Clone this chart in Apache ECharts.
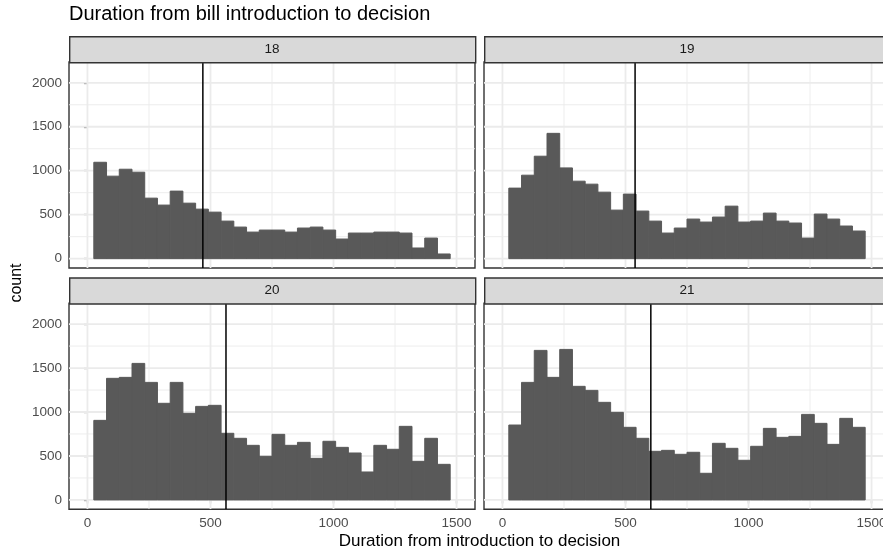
<!DOCTYPE html>
<html>
<head>
<meta charset="utf-8">
<script src="https://cdn.jsdelivr.net/npm/echarts@6/dist/echarts.min.js"></script>
<style>
html,body{margin:0;padding:0;background:#fff;}
#chart{width:883px;height:553px;}
</style>
</head>
<body>
<div id="chart"></div>
<script>
// ---- data ----
const panelNames = ['18', '19', '20', '21'];
const binCenters = [51.7, 103.4, 155.2, 206.9, 258.6, 310.3, 362.1, 413.8, 465.5, 517.2,
  569.0, 620.7, 672.4, 724.1, 775.9, 827.6, 879.3, 931.0, 982.8, 1034.5,
  1086.2, 1137.9, 1189.7, 1241.4, 1293.1, 1344.8, 1396.6, 1448.3];
const binWidth = 51.72;
const counts18 = [1096, 938, 1017, 983, 688, 609, 768, 631, 563, 529, 427, 359, 302, 325, 325, 302, 348, 359, 325, 223, 291, 291, 302, 302, 291, 121, 234, 53];
const counts19 = [802, 949, 1165, 1425, 1032, 881, 847, 756, 552, 734, 541, 427, 291, 348, 450, 416, 473, 597, 416, 427, 518, 427, 405, 234, 507, 450, 371, 314];
const counts20 = [905, 1383, 1394, 1553, 1337, 1099, 1337, 985, 1064, 1076, 758, 701, 621, 496, 746, 621, 655, 473, 667, 598, 534, 318, 621, 576, 837, 439, 701, 405];
const counts21 = [852, 1337, 1701, 1394, 1712, 1292, 1246, 1110, 996, 826, 701, 553, 564, 519, 542, 303, 644, 587, 451, 610, 814, 712, 723, 973, 871, 632, 928, 826];
const medians = [469, 539, 563, 603];
const xMajorTicks = [0, 500, 1000, 1500];
const xMinorTicks = [250, 750, 1250];
const yMajorTicks = [0, 500, 1000, 1500, 2000];
const yMinorTicks = [250, 750, 1250, 1750];

// ---- layout ----
const FONT = "'Liberation Sans', Arial, Helvetica, sans-serif";
const X_MIN = -75, X_MAX = 1575, Y_MIN = -106.5, Y_MAX = 2236.5;
const PW = 406, PH = 206, STRIP_H = 26;
const lefts = [69, 484, 69, 484];
const tops = [62, 62, 303.3, 303.3];
const allCounts = [counts18, counts19, counts20, counts21];

const chart = echarts.init(document.getElementById('chart'), null, {renderer: 'canvas'});

const grids = [], xAxes = [], yAxes = [], series = [], graphics = [];
const plain = v => String(v);

for (let i = 0; i < 4; i++) {
  grids.push({left: lefts[i], top: tops[i], width: PW, height: PH, show: true,
    outerBoundsMode: 'none', containLabel: false,
    backgroundColor: '#ffffff', borderColor: '#333333', borderWidth: 1.4, z: 0});
  const showX = i >= 2, showY = (i % 2 === 0);
  xAxes.push({type: 'value', gridIndex: i, min: X_MIN, max: X_MAX,
    axisLine: {show: false},
    splitLine: {show: false},
    axisTick: {show: showX, length: 3.5, lineStyle: {color: '#333333', width: 1.2}, customValues: xMajorTicks},
    axisLabel: {show: showX, customValues: xMajorTicks, formatter: plain, color: '#4D4D4D', fontSize: 13.5, fontFamily: FONT, margin: 7}
  });
  yAxes.push({type: 'value', gridIndex: i, min: Y_MIN, max: Y_MAX,
    axisLine: {show: false},
    splitLine: {show: false},
    axisTick: {show: showY, length: 3.5, lineStyle: {color: '#333333', width: 1.2}, customValues: yMajorTicks},
    axisLabel: {show: showY, customValues: yMajorTicks, formatter: plain, color: '#4D4D4D', fontSize: 13.5, fontFamily: FONT, margin: 7}
  });

  // grid lines (vertical + horizontal)
  const gl = [];
  xMajorTicks.forEach(v => gl.push([0, v, 1]));
  xMinorTicks.forEach(v => gl.push([0, v, 0]));
  yMajorTicks.forEach(v => gl.push([1, v, 1]));
  yMinorTicks.forEach(v => gl.push([1, v, 0]));
  series.push({
    type: 'custom', xAxisIndex: i, yAxisIndex: i, silent: true, clip: true, z: 1,
    data: gl,
    renderItem: (params, api) => {
      const dir = api.value(0), v = api.value(1), major = api.value(2);
      let p0, p1;
      if (dir === 0) { p0 = api.coord([v, Y_MIN]); p1 = api.coord([v, Y_MAX]); }
      else { p0 = api.coord([X_MIN, v]); p1 = api.coord([X_MAX, v]); }
      return {type: 'line', shape: {x1: p0[0], y1: p0[1], x2: p1[0], y2: p1[1]},
        style: {stroke: '#EBEBEB', lineWidth: major ? 1.8 : 0.9}};
    }
  });

  // histogram bars
  series.push({
    type: 'custom', xAxisIndex: i, yAxisIndex: i, silent: true, clip: true, z: 2,
    data: binCenters.map((c, k) => [c, allCounts[i][k]]),
    renderItem: (params, api) => {
      const c = api.value(0), n = api.value(1);
      const a = api.coord([c - binWidth / 2, n]);
      const b = api.coord([c + binWidth / 2, 0]);
      return {type: 'rect', shape: {x: a[0], y: a[1], width: b[0] - a[0], height: b[1] - a[1]},
        style: {fill: '#595959', stroke: '#595959', lineWidth: 1}};
    }
  });

  // median vertical line
  series.push({
    type: 'custom', xAxisIndex: i, yAxisIndex: i, silent: true, clip: true, z: 3,
    data: [[medians[i]]],
    renderItem: (params, api) => {
      const v = api.value(0);
      const p0 = api.coord([v, Y_MIN]), p1 = api.coord([v, Y_MAX]);
      return {type: 'line', shape: {x1: p0[0], y1: p0[1], x2: p1[0], y2: p1[1]},
        style: {stroke: '#000000', lineWidth: 1.5}};
    }
  });

  // strip
  graphics.push({type: 'rect', left: lefts[i], top: tops[i] - STRIP_H, z: 10,
    shape: {width: PW, height: STRIP_H},
    style: {fill: '#D9D9D9', stroke: '#333333', lineWidth: 1.4}});
  graphics.push({type: 'text', z: 11,
    x: lefts[i] + PW / 2, y: tops[i] - STRIP_H / 2,
    style: {text: panelNames[i], fill: '#1A1A1A', font: '13.5px ' + FONT, align: 'center', verticalAlign: 'middle'}});
}

// axis titles
graphics.push({type: 'text', z: 11, x: (lefts[0] + lefts[1] + PW) / 2, y: 541,
  style: {text: 'Duration from introduction to decision', fill: '#000000', font: '17px ' + FONT, align: 'center', verticalAlign: 'middle'}});
graphics.push({type: 'text', z: 11, x: 17, y: 283, rotation: Math.PI / 2,
  style: {text: 'count', fill: '#000000', font: '16px ' + FONT, align: 'center', verticalAlign: 'middle'}});

chart.setOption({
  animation: false,
  backgroundColor: '#ffffff',
  title: {text: 'Duration from bill introduction to decision', left: 69, top: 4, padding: 0,
    textStyle: {fontFamily: FONT, fontSize: 20, fontWeight: 'normal', color: '#000000'}},
  grid: grids,
  xAxis: xAxes,
  yAxis: yAxes,
  series: series,
  graphic: graphics
});
</script>
</body>
</html>
